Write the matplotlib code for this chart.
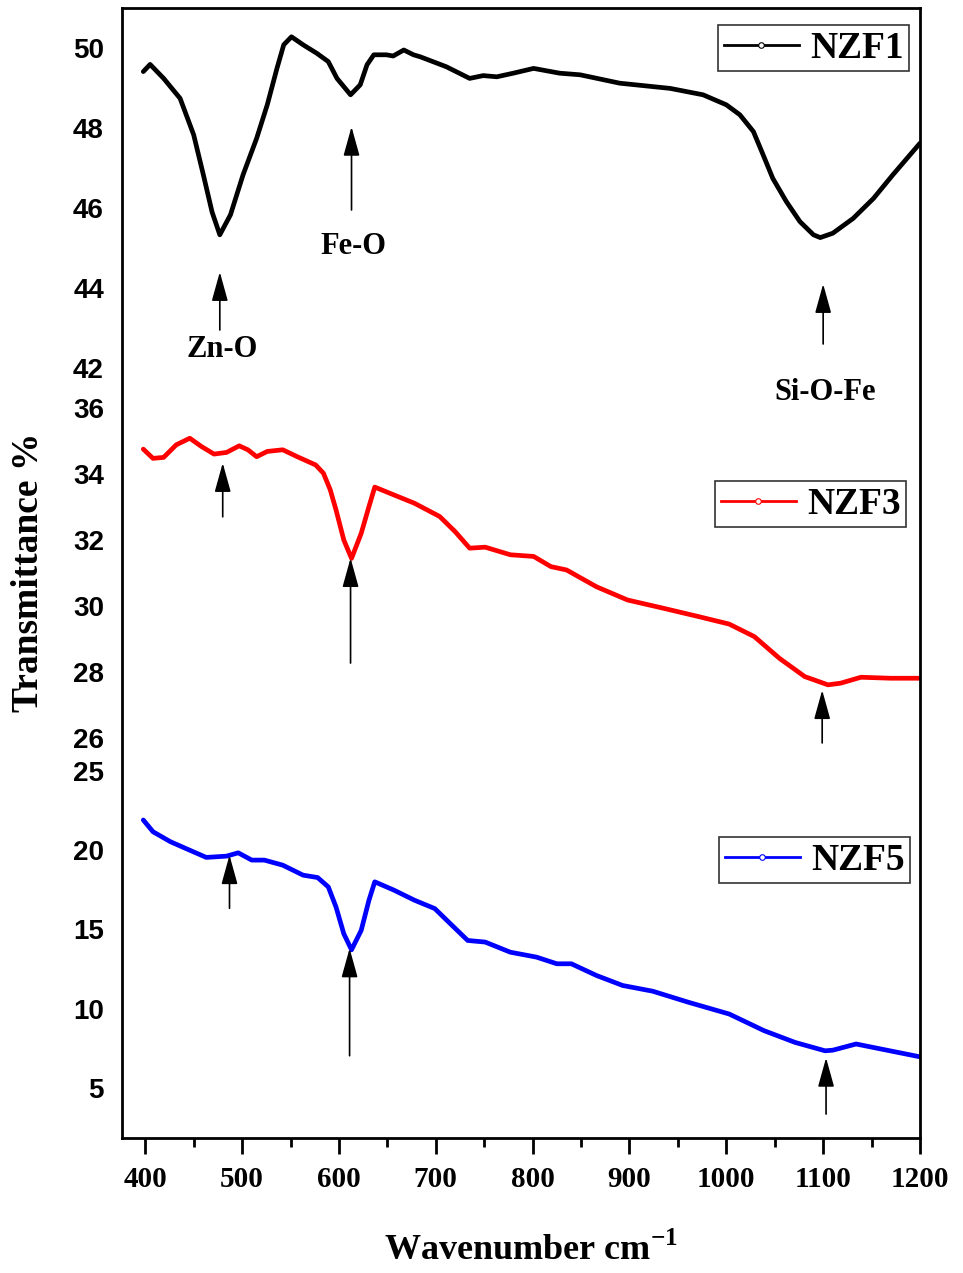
import matplotlib
matplotlib.use("Agg")
import matplotlib.pyplot as plt
from matplotlib.lines import Line2D

# FTIR spectra (wavenumber cm-1, transmittance %)
wn_nzf1 = [398, 405, 419, 436, 450, 460, 469, 477, 488, 501, 515, 526, 536, 543, 551,
           563, 577, 589, 598, 612, 622, 629, 636, 649, 656, 667, 677, 684, 711, 735,
           749, 763, 780, 801, 828, 849, 890, 942, 976, 1000, 1014, 1028, 1038, 1048,
           1062, 1076, 1090, 1097, 1110, 1131, 1152, 1172, 1200]
t_nzf1 = [49.41, 49.59, 49.24, 48.74, 47.83, 46.83, 45.90, 45.33, 45.83, 46.83, 47.74,
          48.58, 49.49, 50.08, 50.28, 50.08, 49.87, 49.66, 49.24, 48.83, 49.08, 49.58,
          49.83, 49.83, 49.80, 49.95, 49.83, 49.78, 49.53, 49.24, 49.31, 49.28, 49.37,
          49.49, 49.37, 49.33, 49.12, 48.99, 48.83, 48.58, 48.33, 47.91, 47.33, 46.74,
          46.16, 45.66, 45.33, 45.26, 45.37, 45.74, 46.24, 46.83, 47.62]

wn_nzf3 = [398, 408, 419, 432, 446, 458, 471, 484, 497, 506, 515, 526, 542, 557, 576,
           584, 591, 597, 605, 613, 623, 631, 637, 657, 678, 704, 720, 735, 751, 777,
           801, 819, 835, 866, 898, 935, 971, 1003, 1029, 1055, 1081, 1105, 1118, 1139,
           1170, 1200]
t_nzf3 = [34.75, 34.47, 34.50, 34.88, 35.08, 34.83, 34.60, 34.65, 34.85, 34.73, 34.52,
          34.68, 34.73, 34.52, 34.27, 34.02, 33.52, 32.91, 32.00, 31.44, 32.20, 33.01,
          33.60, 33.36, 33.11, 32.71, 32.25, 31.75, 31.78, 31.55, 31.50, 31.19, 31.09,
          30.58, 30.18, 29.93, 29.68, 29.45, 29.07, 28.41, 27.86, 27.61, 27.66, 27.84,
          27.81, 27.81]

wn_nzf5 = [398, 408, 426, 442, 463, 484, 496, 510, 523, 542, 563, 578, 589, 597, 605,
           613, 623, 631, 637, 657, 678, 699, 715, 733, 751, 777, 804, 825, 840, 866,
           893, 924, 961, 1003, 1039, 1071, 1102, 1110, 1134, 1160, 1200]
t_nzf5 = [21.90, 21.16, 20.53, 20.10, 19.54, 19.62, 19.83, 19.37, 19.37, 19.05, 18.42,
          18.27, 17.68, 16.41, 14.73, 13.71, 14.94, 16.84, 18.00, 17.47, 16.84, 16.31,
          15.36, 14.30, 14.20, 13.56, 13.25, 12.83, 12.83, 12.09, 11.46, 11.10, 10.40,
          9.66, 8.61, 7.87, 7.34, 7.38, 7.77, 7.45, 6.96]

labels = ["NZF1", "NZF3", "NZF5"]
colors = ["black", "red", "blue"]
yticks = [[42, 44, 46, 48, 50], [26, 28, 30, 32, 34, 36], [5, 10, 15, 20, 25]]
ylims = [(41.375, 51.0), (25.485, 36.45), (1.84, 26.0)]

# peak markers: (wavenumber, arrow tip, arrow tail, label, label y)
arrows_nzf1 = [(477, 44.4, 42.95, "Zn-O", 42.45),
               (613, 48.03, 45.95, "Fe-O", 45.05),
               (1100, 44.1, 42.6, "Si-O-Fe", 41.4)]
arrows_nzf3 = [(480, 34.33, 32.7), (612, 31.45, 28.27), (1099, 27.45, 25.85)]
arrows_nzf5 = [(487, 19.68, 16.33), (611, 13.8, 7.03), (1103, 6.9, 3.35)]

plt.rcParams['mathtext.fontset'] = 'custom'
plt.rcParams['mathtext.rm'] = 'Liberation Serif:bold'
plt.rcParams['mathtext.bf'] = 'Liberation Serif:bold'

serif = dict(family='Liberation Serif', weight='bold')

fig = plt.figure(figsize=(9.63, 12.73), dpi=100)
L, R, T, B = 122/963, 920/963, 1-8/1273, 1-1138/1273
gs = fig.add_gridspec(3, 1, height_ratios=[385, 362, 383], hspace=0,
                      left=L, right=R, top=T, bottom=B)
axes = [fig.add_subplot(gs[i]) for i in range(3)]

data = [(wn_nzf1, t_nzf1), (wn_nzf3, t_nzf3), (wn_nzf5, t_nzf5)]
legend_pos = [(909/963, 1-25/1273), (906/963, 1-481/1273), (910/963, 1-837/1273)]

for i, ax in enumerate(axes):
    x, y = data[i]
    ax.patch.set_visible(False)
    ax.plot(x, y, color=colors[i], lw=3.4, solid_capstyle='round')
    ax.set_xlim(376, 1200)
    ax.set_ylim(*ylims[i])
    ax.set_yticks(yticks[i])
    ax.tick_params(axis='y', length=0, pad=13)
    for lab in ax.get_yticklabels():
        lab.set_fontfamily('Liberation Sans')
        lab.set_fontweight('bold')
        lab.set_fontsize(20)
    for side in ['left', 'right', 'top', 'bottom']:
        ax.spines[side].set_visible(False)
    if i < 2:
        ax.tick_params(axis='x', which='both', bottom=False, labelbottom=False)

    handle = Line2D([], [], color=colors[i], lw=2, marker='o', ms=4,
                    mfc='white', mec=colors[i], mew=0.8)
    leg = ax.legend([handle], [labels[i]], loc='upper right',
                    bbox_to_anchor=legend_pos[i], bbox_transform=fig.transFigure,
                    borderaxespad=0, fancybox=False, framealpha=1, edgecolor='#333333',
                    handlelength=2.0, handletextpad=0.3, borderpad=0.15,
                    prop=dict(family='Liberation Serif', weight='bold', size=27))
    leg.get_frame().set_linewidth(1.2)

# one frame around the whole stack
frame = fig.add_axes([L, B, R - L, T - B])
frame.patch.set_visible(False)
frame.set_xticks([])
frame.set_yticks([])
for side in ['left', 'right', 'top', 'bottom']:
    frame.spines[side].set_linewidth(2.0)

# bottom axis ticks
ax = axes[2]
ax.set_xticks(range(400, 1201, 100))
ax.set_xticks(range(450, 1200, 100), minor=True)
ax.tick_params(axis='x', which='major', direction='out', length=11.5, width=2.0, pad=9)
ax.tick_params(axis='x', which='minor', direction='out', length=6.5, width=2.0)
for lab in ax.get_xticklabels():
    lab.set_fontfamily('Liberation Serif')
    lab.set_fontweight('bold')
    lab.set_fontsize(21)

arrow_style = dict(arrowstyle='-|>,head_length=0.9,head_width=0.25', color='black',
                   lw=1.2, mutation_scale=20, shrinkA=0, shrinkB=0)

for xw, tip, tail, name, ty in arrows_nzf1:
    axes[0].annotate('', xy=(xw, tip), xytext=(xw, tail), arrowprops=arrow_style)
    axes[0].text(xw + 2, ty, name, ha='center', va='center', fontsize=22, clip_on=False,
                 **serif)
for xw, tip, tail in arrows_nzf3:
    axes[1].annotate('', xy=(xw, tip), xytext=(xw, tail), arrowprops=arrow_style)
for xw, tip, tail in arrows_nzf5:
    axes[2].annotate('', xy=(xw, tip), xytext=(xw, tail), arrowprops=arrow_style)

fig.text(28/963, 1-572/1273, 'Transmittance %', rotation=90, ha='center', va='center',
         fontsize=27, **serif)
fig.text(531/963, 1-1250/1273, r'Wavenumber cm$^{-1}$', ha='center', va='center',
         fontsize=26, **serif)

fig.savefig('out.png', dpi=100)
